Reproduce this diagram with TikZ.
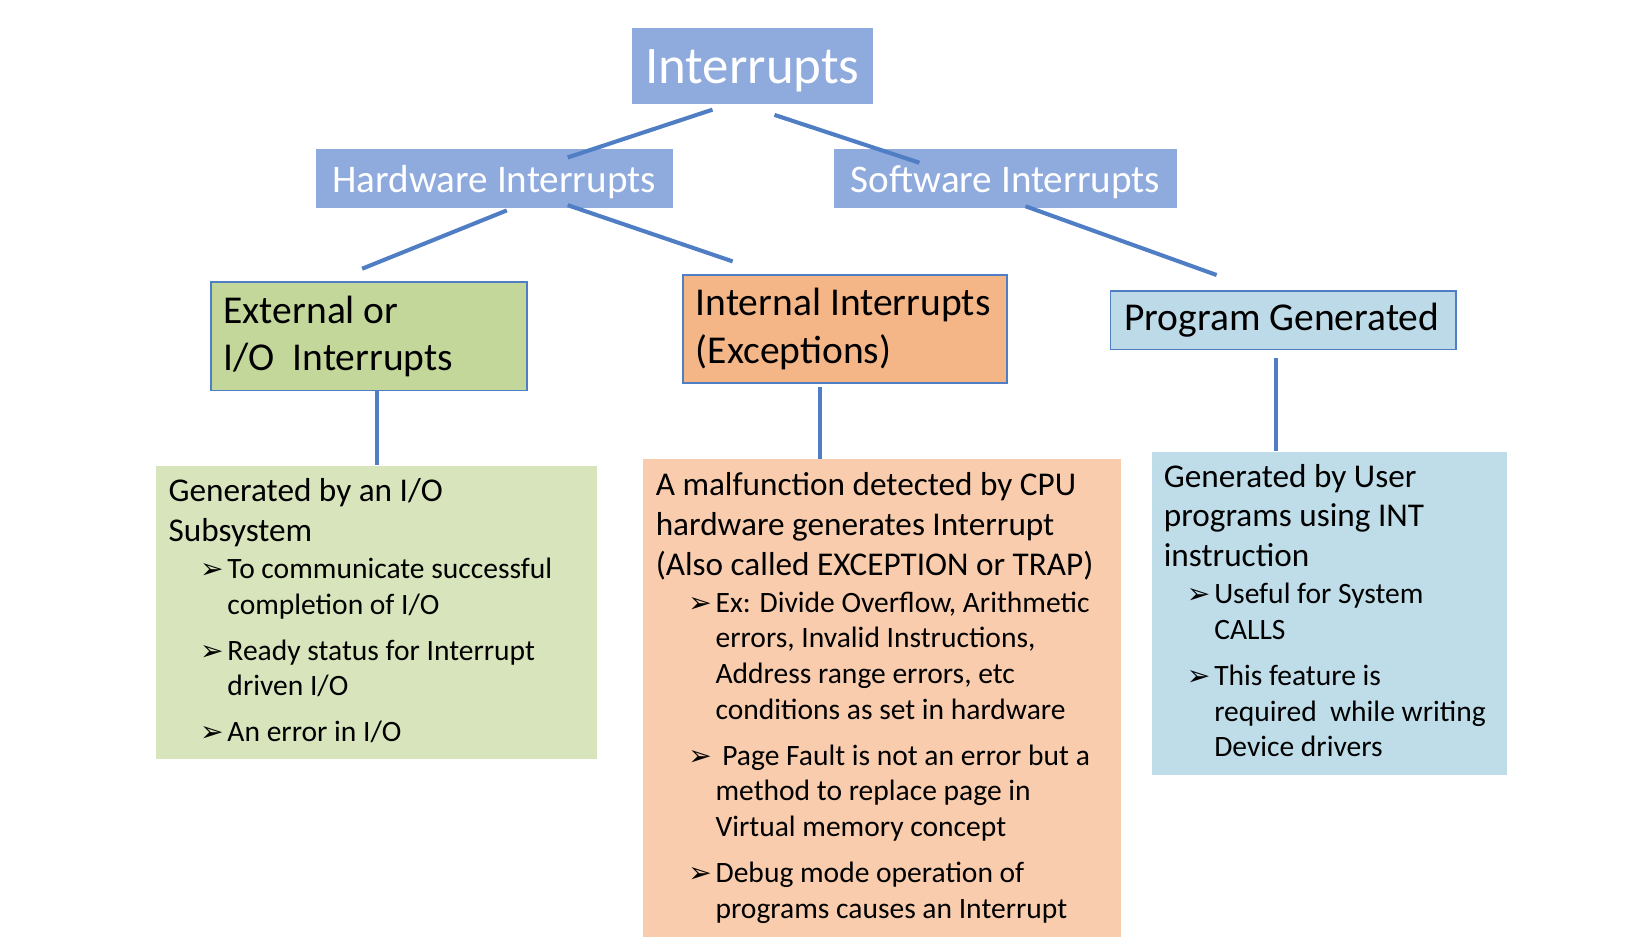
\documentclass[tikz,border=0pt]{standalone}
\usepackage{fontspec}
\setmainfont{Carlito}
\newfontfamily\dingfont{DejaVu Sans}
\usetikzlibrary{calc}

\definecolor{headblue}{RGB}{143,170,220}
\definecolor{lineblue}{RGB}{79,126,196}
\definecolor{extgreen}{RGB}{196,215,155}
\definecolor{intorange}{RGB}{244,181,135}
\definecolor{progblue}{RGB}{188,218,232}
\definecolor{bodygreen}{RGB}{216,228,188}
\definecolor{bodyorange}{RGB}{248,204,173}
\definecolor{bodyblue}{RGB}{190,221,233}

\newcommand{\arrowbul}{{\dingfont\fontsize{7.6}{7.6}\selectfont ➢}}
\newcommand{\bitem}[1]{\makebox[0.26cm][l]{\arrowbul}\begin{tabular}[t]{@{}l@{}}#1\end{tabular}}
\newcommand{\plines}[1]{\begin{tabular}[t]{@{}l@{}}#1\end{tabular}}
\newcommand{\lowered}[2]{\raisebox{0pt}[\dimexpr\height+#1\relax]{#2}}

\tikzset{
  headbox/.style={fill=headblue, text=white, inner sep=0, anchor=north west},
  catbox/.style={draw=lineblue, line width=0.5pt, inner ysep=0, anchor=north west, align=flush left, font=\fontsize{10.7}{12.84}\selectfont, execute at begin node={\hyphenpenalty=10000\relax}},
  bodybox/.style={inner sep=0, anchor=north west},
  link/.style={draw=lineblue, line width=1.1pt},
  paratext/.style={font=\fontsize{9}{10.8}\selectfont, inner sep=0, anchor=base west},
  bultext/.style={font=\fontsize{8}{9.67}\selectfont, inner sep=0, anchor=base west},
}

\begin{document}
\begin{tikzpicture}[x=0.01cm, y=-0.01cm]

        \useasboundingbox (0,0) rectangle (1568,897);

        % Top level
        \node[headbox, minimum width=2.30cm, minimum height=0.72cm, font=\fontsize{14.3}{17}\selectfont] (intr) at (601,26) {\lowered{2.8pt}{Interrupts}};
        \node[headbox, minimum width=3.40cm, minimum height=0.56cm, font=\fontsize{10.6}{12.7}\selectfont] (hw) at (300,141) {\lowered{2.2pt}{Hardware Interrupts}};
        \node[headbox, minimum width=3.26cm, minimum height=0.56cm, font=\fontsize{10.6}{12.7}\selectfont] (sw) at (794,141) {\lowered{2.2pt}{Software Interrupts}};

        % Categories
        \node[catbox, fill=extgreen, inner xsep=0.12cm, text width=2.77cm, minimum height=1.03cm] (ext) at (200,268) {External or\\I/O\ \ Interrupts};
        \node[catbox, fill=intorange, inner xsep=0.12cm, text width=2.84cm, minimum height=1.03cm] (int) at (650,261) {Internal Interrupts\\(Exceptions)};
        \node[catbox, fill=progblue, inner xsep=0.13cm, text width=3.03cm, minimum height=0.56cm] (prog) at (1057,276) {Program Generated};

        % Description boxes
        \node[bodybox, fill=bodygreen, minimum width=4.20cm, minimum height=2.79cm] (gbody) at (148,443) {};
        \node[bodybox, fill=bodyorange, minimum width=4.55cm, minimum height=4.55cm] (obody) at (612,437) {};
        \node[bodybox, fill=bodyblue, minimum width=3.38cm, minimum height=3.07cm] (bbody) at (1097,430) {};

        % Connectors
        \draw[link] ($(intr.south)+(-38,5)$) -- ($(hw.north)+(70,9)$);
        \draw[link] ($(intr.south)+(21,10)$) -- ($(sw.north)+(-82,14)$);
        \draw[link] ($(hw.south)+(12,2)$) -- ($(ext.north)+(-6.5,-12)$);
        \draw[link] ($(hw.south)+(70,-3)$) -- ($(int.north)+(-107,-12)$);
        \draw[link] ($(sw.south)+(19,-2)$) -- ($(prog.north)+(-63.5,-14)$);
        \draw[link] (gbody.north |- ext.south) -- (gbody.north);
        \draw[link] ($(int.south)+(-24,3)$) coordinate (ib) -- (ib |- obody.north);
        \draw[link] ($(prog.south)+(-6.5,7)$) coordinate (pb) -- (pb |- bbody.north);

        % External text
        \node[paratext] (gpara) at (160,478) {\plines{Generated by an I/O\\Subsystem}};
        \node[bultext] (gb1) at (190,551) {\bitem{To communicate successful\\completion of I/O}};
        \node[bultext] (gb2) at (190,629) {\bitem{Ready status for Interrupt\\driven I/O}};
        \node[bultext] (gb3) at (190,706) {\bitem{An error in I/O}};

        % Internal text
        \node[paratext] (opara) at (624,472) {\plines{A malfunction detected by CPU\\hardware generates Interrupt\\(Also called EXCEPTION or TRAP)}};
        \node[bultext] (ob1) at (655,583) {\bitem{Ex: Divide Overflow, Arithmetic\\errors, Invalid Instructions,\\Address range errors, etc\\conditions as set in hardware}};
        \node[bultext] (ob2) at (655,729) {\bitem{\ Page Fault is not an error but a\\method to replace page in\\Virtual memory concept}};
        \node[bultext] (ob3) at (655,841) {\bitem{Debug mode operation of\\programs causes an Interrupt}};

        % Program text
        \node[paratext] (bpara) at (1108,464) {\plines{Generated by User\\programs using INT\\instruction}};
        \node[bultext] (bb1) at (1130,575) {\bitem{Useful for System\\CALLS}};
        \node[bultext] (bb2) at (1130,653) {\bitem{This feature is\\required\ \ while writing\\Device drivers}};

\end{tikzpicture}
\end{document}
